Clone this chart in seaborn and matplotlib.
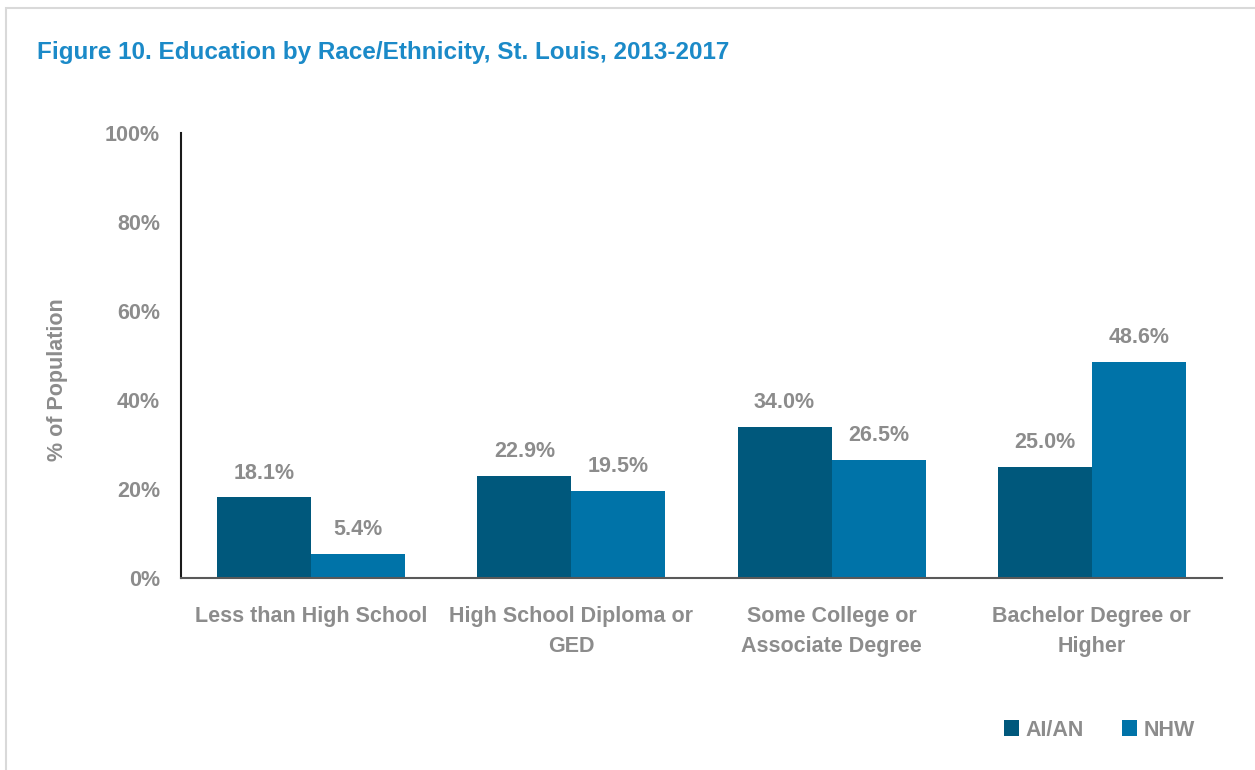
import matplotlib
matplotlib.use("Agg")
import matplotlib.pyplot as plt
from matplotlib.patches import Rectangle, Patch
import seaborn as sns
import pandas as pd

categories = ["Less than High School", "High School Diploma or\nGED",
              "Some College or\nAssociate Degree", "Bachelor Degree or\nHigher"]
groups = ["AI/AN", "NHW"]
aian_values = [18.1, 22.9, 34.0, 25.0]
nhw_values = [5.4, 19.5, 26.5, 48.6]
y_ticks = [0, 20, 40, 60, 80, 100]

df = pd.DataFrame({
    "category": categories * 2,
    "group": [groups[0]] * 4 + [groups[1]] * 4,
    "value": aian_values + nhw_values,
})

sns.set_theme(style="white")
plt.rcParams["font.family"] = ["Liberation Sans Narrow", "Liberation Sans", "DejaVu Sans"]
plt.rcParams["font.weight"] = "bold"

GRAY = "#8c8c8c"
palette = {"AI/AN": "#00587c", "NHW": "#0073a8"}

fig = plt.figure(figsize=(12.55, 7.7), dpi=100)
fig.patches.append(Rectangle((6 / 1255, -0.1), 1.2, (770 - 8) / 770 + 0.1,
                             transform=fig.transFigure, fill=False,
                             edgecolor="#d9d9d9", linewidth=1.5))
ax = fig.add_axes([181 / 1255, 1 - 578 / 770, (1222 - 181) / 1255, (578 - 133) / 770])

sns.barplot(data=df, x="category", y="value", hue="group", order=categories,
            hue_order=groups, palette=palette, width=0.723, saturation=1,
            edgecolor="none", ax=ax, legend=False)

for container in ax.containers:
    ax.bar_label(container, labels=[f"{v:.1f}%" for v in container.datavalues],
                 padding=10, fontsize=15.5, fontweight="bold", color=GRAY)

ax.set_ylim(0, 100)
ax.set_xlim(-0.5, 3.5)
ax.set_yticks(y_ticks)
ax.set_yticklabels([f"{t}%" for t in y_ticks])
ax.tick_params(axis="y", length=0, pad=15, labelsize=15.5, labelcolor=GRAY)
ax.tick_params(axis="x", length=0, pad=20, labelsize=15.5, labelcolor=GRAY)
for lbl in ax.get_xticklabels() + ax.get_yticklabels():
    lbl.set_fontweight("bold")
    lbl.set_linespacing(1.6)
ax.set_xlabel("")
ax.set_ylabel("% of Population", fontsize=15.5, fontweight="bold", color=GRAY)
ax.yaxis.set_label_coords(-0.109, 0.445)

for side in ["top", "right"]:
    ax.spines[side].set_visible(False)
ax.spines["left"].set_color("#1a1a1a")
ax.spines["left"].set_linewidth(1.5)
ax.spines["bottom"].set_color("#595959")
ax.spines["bottom"].set_linewidth(1.5)

fig.text(37 / 1255, 1 - 53 / 770, "Figure 10. Education by Race/Ethnicity, St. Louis, 2013-2017",
         fontsize=17.5, fontweight="bold", color="#1b8ac8", va="center", ha="left")

handles = [Patch(facecolor=palette[g], edgecolor="none") for g in groups]
fig.legend(handles, groups, loc="center left", bbox_to_anchor=(985 / 1255, 1 - 730 / 770),
           ncol=2, frameon=False, labelcolor=GRAY, handlelength=0.7,
           handleheight=0.7, handletextpad=0.3, columnspacing=1.75,
           prop={"weight": "bold", "size": 15.5})

fig.savefig("out.png", dpi=100)
